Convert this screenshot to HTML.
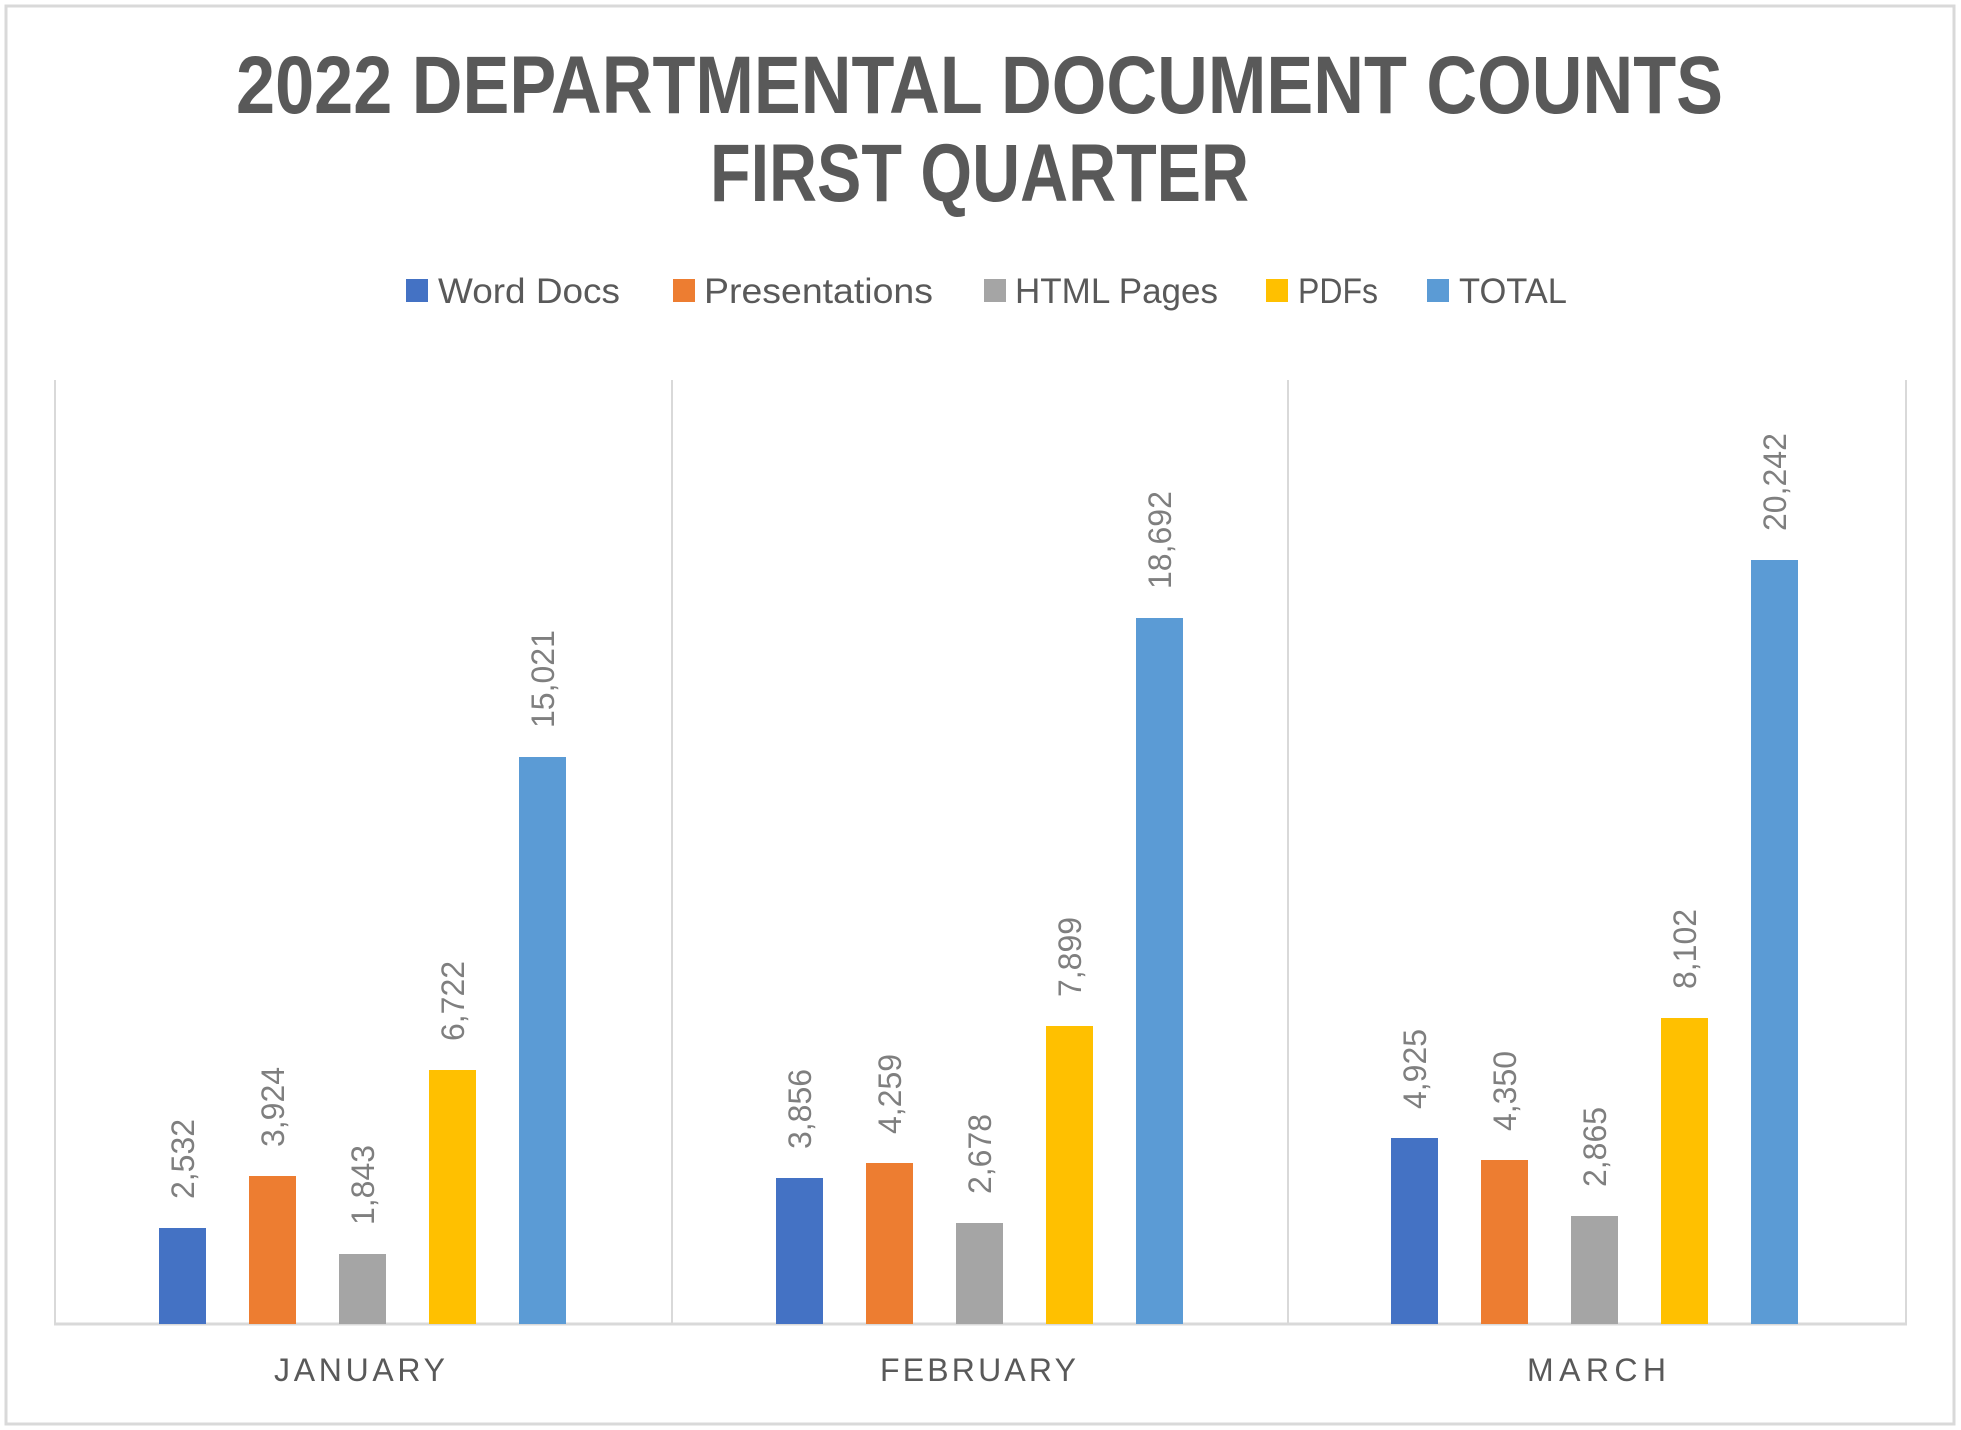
<!DOCTYPE html>
<html><head><meta charset="utf-8"><style>
html,body{margin:0;padding:0;background:#fff;}
svg{display:block;font-family:"Liberation Sans",sans-serif;}
</style></head><body>
<svg width="1961" height="1430" viewBox="0 0 1961 1430" xmlns="http://www.w3.org/2000/svg">
<rect x="0" y="0" width="1961" height="1430" fill="#fff"/>
<rect x="6" y="6" width="1948" height="1418" fill="none" stroke="#d9d9d9" stroke-width="3"/>
<g fill="#595959" font-weight="bold" font-size="82">
<text x="236" y="113" textLength="1487" lengthAdjust="spacingAndGlyphs">2022 DEPARTMENTAL DOCUMENT COUNTS</text>
<text x="710" y="201" textLength="539" lengthAdjust="spacingAndGlyphs">FIRST QUARTER</text>
</g>
<g font-size="35" fill="#595959">
<rect x="406" y="279" width="22" height="23" fill="#4472c4"/><text x="438" y="303" textLength="182" lengthAdjust="spacingAndGlyphs">Word Docs</text>
<rect x="673" y="279" width="22" height="23" fill="#ed7d31"/><text x="704" y="303" textLength="229" lengthAdjust="spacingAndGlyphs">Presentations</text>
<rect x="984" y="279" width="22" height="23" fill="#a5a5a5"/><text x="1015" y="303" textLength="203" lengthAdjust="spacingAndGlyphs">HTML Pages</text>
<rect x="1266" y="279" width="22" height="23" fill="#ffc000"/><text x="1298" y="303" textLength="80" lengthAdjust="spacingAndGlyphs">PDFs</text>
<rect x="1427" y="279" width="22" height="23" fill="#5b9bd5"/><text x="1459" y="303" textLength="108" lengthAdjust="spacingAndGlyphs">TOTAL</text>
</g>
<g stroke="#d9d9d9" stroke-width="2">
<line x1="55" y1="380" x2="55" y2="1324"/>
<line x1="672" y1="380" x2="672" y2="1324"/>
<line x1="1288" y1="380" x2="1288" y2="1324"/>
<line x1="1906" y1="380" x2="1906" y2="1324"/>
</g>
<line x1="54" y1="1324" x2="1907" y2="1324" stroke="#d9d9d9" stroke-width="3"/>
<g font-size="32" fill="#595959">
<text x="274" y="1381" textLength="171" lengthAdjust="spacing">JANUARY</text>
<text x="880" y="1381" textLength="196" lengthAdjust="spacing">FEBRUARY</text>
<text x="1527" y="1381" textLength="139" lengthAdjust="spacing">MARCH</text>
</g>
<g fill="#4472c4">
<rect x="159" y="1228" width="47" height="96"/>
<rect x="776" y="1178" width="47" height="146"/>
<rect x="1391" y="1138" width="47" height="186"/>
</g>
<g fill="#ed7d31">
<rect x="249" y="1176" width="47" height="148"/>
<rect x="866" y="1163" width="47" height="161"/>
<rect x="1481" y="1160" width="47" height="164"/>
</g>
<g fill="#a5a5a5">
<rect x="339" y="1254" width="47" height="70"/>
<rect x="956" y="1223" width="47" height="101"/>
<rect x="1571" y="1216" width="47" height="108"/>
</g>
<g fill="#ffc000">
<rect x="429" y="1070" width="47" height="254"/>
<rect x="1046" y="1026" width="47" height="298"/>
<rect x="1661" y="1018" width="47" height="306"/>
</g>
<g fill="#5b9bd5">
<rect x="519" y="757" width="47" height="567"/>
<rect x="1136" y="618" width="47" height="706"/>
<rect x="1751" y="560" width="47" height="764"/>
</g>
<g font-size="32" fill="#7f7f7f">
<text transform="translate(194,1199) rotate(-90)">2,532</text>
<text transform="translate(284,1147) rotate(-90)">3,924</text>
<text transform="translate(374,1225) rotate(-90)">1,843</text>
<text transform="translate(464,1041) rotate(-90)">6,722</text>
<text transform="translate(554,728) rotate(-90)">15,021</text>
<text transform="translate(811,1149) rotate(-90)">3,856</text>
<text transform="translate(901,1134) rotate(-90)">4,259</text>
<text transform="translate(991,1194) rotate(-90)">2,678</text>
<text transform="translate(1081,997) rotate(-90)">7,899</text>
<text transform="translate(1171,589) rotate(-90)">18,692</text>
<text transform="translate(1426,1109) rotate(-90)">4,925</text>
<text transform="translate(1516,1131) rotate(-90)">4,350</text>
<text transform="translate(1606,1187) rotate(-90)">2,865</text>
<text transform="translate(1696,989) rotate(-90)">8,102</text>
<text transform="translate(1786,531) rotate(-90)">20,242</text>
</g>
</svg>
</body></html>
